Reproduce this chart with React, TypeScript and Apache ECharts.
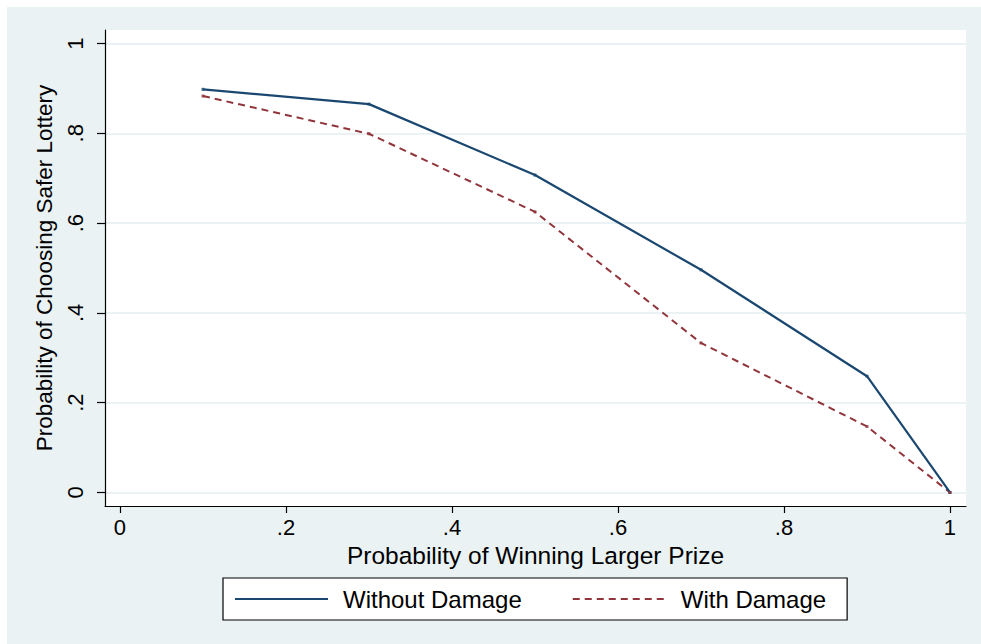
import React, { useEffect, useRef } from "react";
import * as echarts from "echarts";

const xValues = [0.1, 0.3, 0.5, 0.7, 0.9, 1.0];
const withoutDamage = [0.898, 0.865, 0.707, 0.496, 0.259, 0.0];
const withDamage = [0.883, 0.799, 0.625, 0.333, 0.147, 0.0];
const tickValues = [0, 0.2, 0.4, 0.6, 0.8, 1];
const seriesNames = ["Without Damage", "With Damage"];
const xTitle = "Probability of Winning Larger Prize";
const yTitle = "Probability of Choosing Safer Lottery";

const NAVY = "#1a476f";
const MAROON = "#90353b";
const BG = "#EAF2F3";
const FONT = "'Liberation Sans', Arial, sans-serif";

const fmt = (v: number) => {
  const r = Number(v.toFixed(1));
  if (r === 0) return "0";
  if (r === 1) return "1";
  return String(r).replace(/^0/, "");
};

export default function App() {
  const ref = useRef<HTMLDivElement>(null);
  useEffect(() => {
    if (!ref.current) return;
    const chart = echarts.init(ref.current, undefined, { renderer: "svg" });
    const pairs = (ys: number[]) => xValues.map((x, i) => [x, ys[i]]);
    const axisLine = {
      show: true,
      onZero: false,
      lineStyle: { color: "#000", width: 1.2 },
    };
    const tickBase = {
      show: true,
      inside: false,
      customValues: tickValues,
      lineStyle: { color: "#000", width: 1.2 },
    };
    chart.setOption({
      animation: false,
      backgroundColor: BG,
      grid: {
        left: 98,
        top: 23,
        width: 861,
        height: 476,
        show: true,
        backgroundColor: "#fff",
        borderWidth: 0,
        containLabel: false,
      },
      xAxis: {
        type: "value",
        min: -0.01807,
        max: 1.01928,
        axisLine,
        axisTick: { ...tickBase, length: 7 },
        axisLabel: {
          customValues: tickValues,
          formatter: fmt,
          margin: 10,
          fontFamily: FONT,
          fontSize: 22,
          color: "#000",
        },
        splitLine: { show: false },
        name: xTitle,
        nameLocation: "middle",
        nameGap: 29,
        nameTextStyle: { fontFamily: FONT, fontSize: 24.5, color: "#000" },
      },
      yAxis: {
        type: "value",
        min: -0.0301,
        max: 1.0301,
        axisLine,
        axisTick: { ...tickBase, length: 8 },
        axisLabel: {
          customValues: tickValues,
          formatter: fmt,
          rotate: 90,
          margin: 19,
          fontFamily: FONT,
          fontSize: 22,
          color: "#000",
        },
        splitLine: { show: true, lineStyle: { color: BG, width: 2 } },
        name: yTitle,
        nameLocation: "middle",
        nameRotate: 90,
        nameGap: 47,
        nameTextStyle: { fontFamily: FONT, fontSize: 22.5, color: "#000" },
      },
      legend: {
        data: seriesNames,
        left: 216,
        top: 571,
        orient: "horizontal",
        backgroundColor: "#fff",
        borderColor: "#000",
        borderWidth: 1.2,
        borderRadius: 0,
        padding: [9, 21, 9, 11],
        itemWidth: 93,
        itemHeight: 20,
        itemGap: 50,
        itemStyle: { opacity: 0 },
        textStyle: {
          fontFamily: FONT,
          fontSize: 24,
          color: "#000",
          padding: [0, 0, 0, 10],
        },
      },
      series: [
        {
          name: seriesNames[0],
          type: "line",
          data: pairs(withoutDamage),
          symbol: "none",
          lineStyle: { color: NAVY, width: 2.2 },
          itemStyle: { color: NAVY },
          z: 3,
        },
        {
          name: seriesNames[1],
          type: "line",
          data: pairs(withDamage),
          symbol: "none",
          lineStyle: { color: MAROON, width: 2, type: [7, 5] },
          itemStyle: { color: MAROON },
          z: 2,
        },
        {
          name: "markers1",
          type: "scatter",
          data: pairs(withoutDamage),
          symbol: "rect",
          symbolSize: 3,
          itemStyle: { color: NAVY },
          z: 4,
        },
        {
          name: "markers2",
          type: "scatter",
          data: pairs(withDamage),
          symbol: "rect",
          symbolSize: 3,
          itemStyle: { color: MAROON },
          z: 4,
        },
      ],
    });
    return () => chart.dispose();
  }, []);
  return (
    <div
      style={{
        position: "fixed",
        left: 0,
        top: 0,
        width: 981,
        height: 644,
        background: "#fff",
      }}
    >
      <div
        ref={ref}
        style={{ position: "absolute", left: 7, top: 7, width: 974, height: 637 }}
      />
    </div>
  );
}
